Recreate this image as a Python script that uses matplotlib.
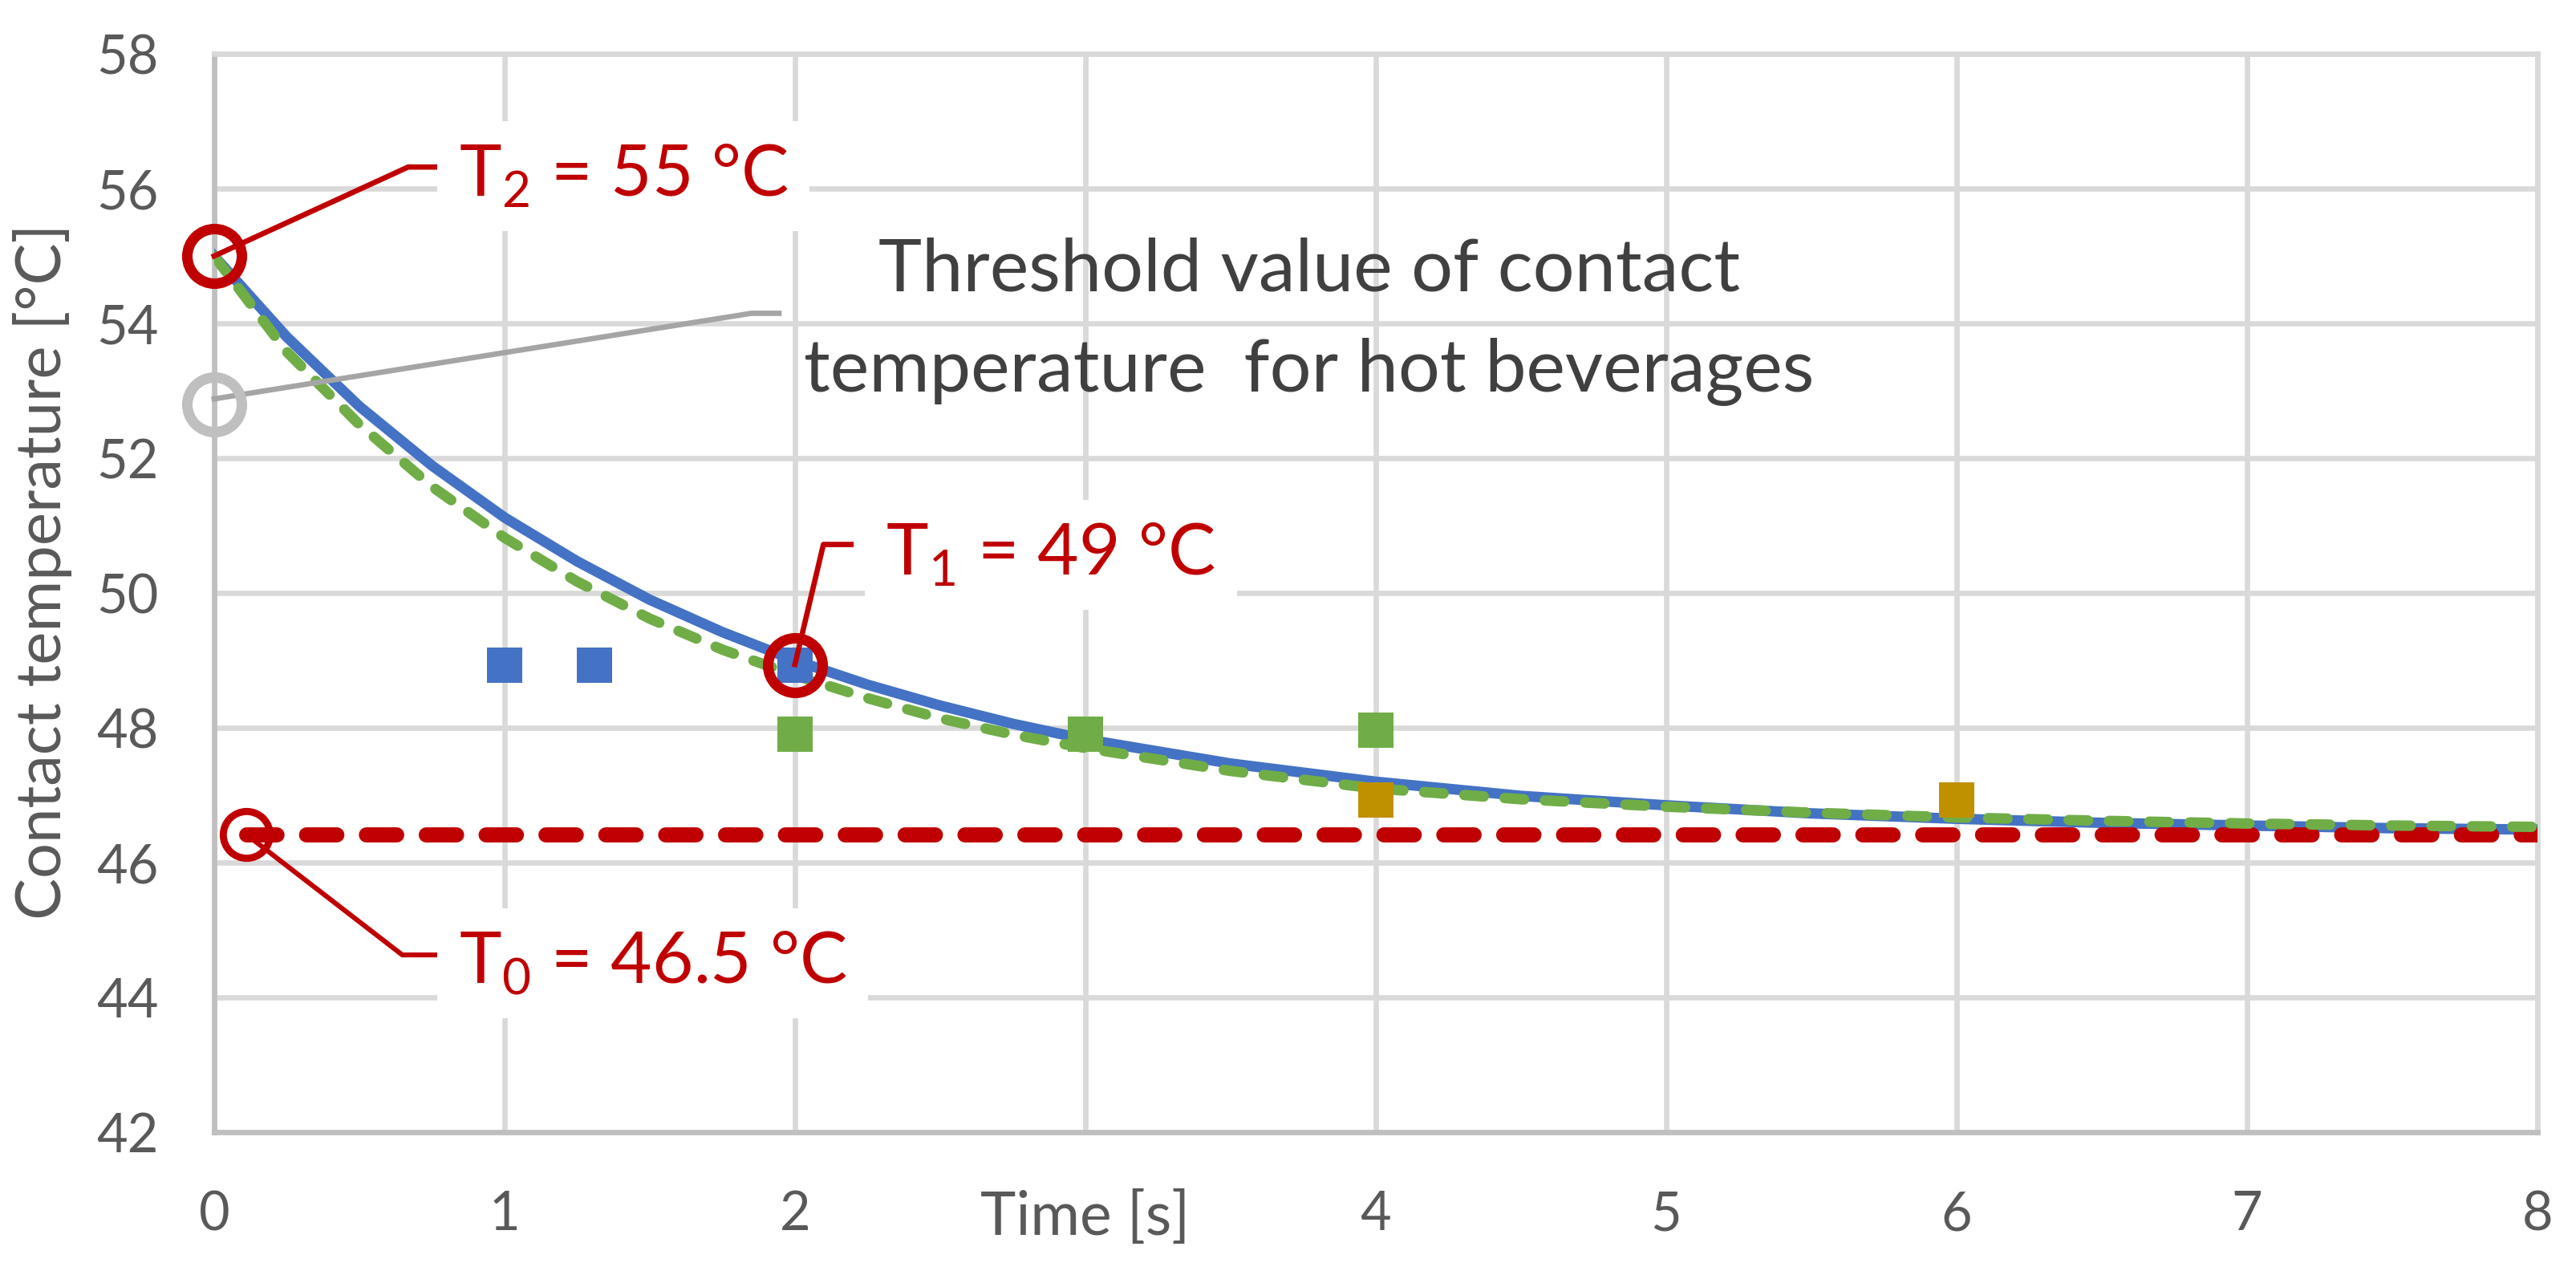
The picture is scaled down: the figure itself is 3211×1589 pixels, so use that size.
import matplotlib.pyplot as plt
import matplotlib.transforms as mtransforms

plt.rcParams['font.family'] = ['Lato', 'DejaVu Sans']
plt.rcParams['mathtext.fontset'] = 'custom'
plt.rcParams['mathtext.rm'] = 'Lato'

# values
t_curve = [0, 0.25, 0.5, 0.75, 1.0, 1.25, 1.5, 1.75, 2.0, 2.25, 2.5, 2.75, 3.0,
           3.5, 4.0, 4.5, 5.0, 5.5, 6.0, 6.5, 7.0, 7.5, 8.0]
model_blue = [55.00, 53.80, 52.77, 51.89, 51.12, 50.47, 49.90, 49.42, 49.00, 48.64,
              48.33, 48.06, 47.83, 47.47, 47.20, 46.99, 46.85, 46.73, 46.65, 46.59,
              46.55, 46.51, 46.49]
model_green = [55.00, 53.58, 52.50, 51.58, 50.82, 50.17, 49.62, 49.16, 48.78, 48.44,
               48.14, 47.90, 47.70, 47.36, 47.10, 46.94, 46.83, 46.74, 46.67, 46.62,
               46.58, 46.55, 46.53]

blue_t = [1.0, 1.31, 2.0]
blue_T = [48.93, 48.93, 48.93]
green_t = [2.0, 3.0, 4.0]
green_T = [47.9, 47.9, 47.97]
gold_t = [4.0, 6.0]
gold_T = [46.93, 46.93]

T0 = 46.42
T0_t = [0.11, 8.0]

x_ticks = [0, 1, 2, 3, 4, 5, 6, 7, 8]
x_labels = ['0', '1', '2', '', '4', '5', '6', '7', '8']
y_ticks = [42, 44, 46, 48, 50, 52, 54, 56, 58]

RED = '#C00000'
BLUE = '#4472C4'
GREEN = '#70AD47'
GOLD = '#BF9000'
GRID = '#D9D9D9'
AXIS = '#BFBFBF'
TICK = '#595959'

fig = plt.figure(figsize=(16.06, 7.945), dpi=200)
ax = fig.add_axes([0.0831, 0.1120, 0.9016, 0.8458])

ax.set_xlim(0, 8)
ax.set_ylim(42, 58)
ax.set_xticks(x_ticks)
ax.set_xticklabels(x_labels)
ax.set_yticks(y_ticks)
ax.tick_params(length=0, labelsize=24, labelcolor=TICK)
ax.tick_params(axis='x', pad=26)
ax.tick_params(axis='y', pad=25)
ax.grid(True, color=GRID, lw=2.4)
ax.set_axisbelow(True)
for s in ['left', 'bottom']:
    ax.spines[s].set_color(AXIS)
    ax.spines[s].set_linewidth(2.4)
for s in ['top', 'right']:
    ax.spines[s].set_color(GRID)
    ax.spines[s].set_linewidth(2.4)

ax.set_ylabel('Contact temperature [°C]', fontsize=28, color=TICK)
ax.yaxis.set_label_coords(-0.061, 0.52)
trans = mtransforms.blended_transform_factory(ax.transData, ax.transAxes)
ax.text(3, -0.0952, 'Time [s]', transform=trans, ha='center', va='baseline',
        fontsize=27, color=TICK)

# curves
ax.plot(t_curve, model_blue, color=BLUE, lw=4.7, zorder=3)
ax.plot(t_curve, model_green, color=GREEN, lw=4.7, dashes=(1.85, 2.0),
        dash_capstyle='round', zorder=4)
ax.plot(T0_t, [T0, T0], color=RED, lw=6.8, dashes=(2.0, 1.95),
        dash_capstyle='round', zorder=3.5)

# measured points
ax.plot(blue_t, blue_T, 's', color=BLUE, ms=15.5, mew=0, zorder=5)
ax.plot(green_t, green_T, 's', color=GREEN, ms=15.5, mew=0, zorder=5)
ax.plot(gold_t, gold_T, 's', color=GOLD, ms=15.5, mew=0, zorder=5)

box = dict(boxstyle='square,pad=0.3', fc='white', ec='none')

# T2 annotation
ax.plot([0, 0.668, 0.765], [55, 56.32, 56.32], color=RED, lw=2.4, zorder=6,
        clip_on=False)
ax.plot([0], [55], 'o', ms=24.5, mfc='none', mec=RED, mew=4.7, zorder=6,
        clip_on=False)
ax.text(0.842, 55.89, r'T$_\mathregular{2}$ = 55 °C', fontsize=32, color=RED,
        ha='left', va='baseline', bbox=box, zorder=7)

# T1 annotation
ax.plot([2.0, 2.098, 2.193], [48.94, 50.72, 50.72], color=RED, lw=2.4, zorder=6)
ax.plot([2.0], [48.93], 'o', ms=24.5, mfc='none', mec=RED, mew=4.7, zorder=6)
ax.text(2.313, 50.27, r'T$_\mathregular{1}$ = 49 °C', fontsize=32, color=RED,
        ha='left', va='baseline', bbox=box, zorder=7)

# T0 annotation
ax.plot([0.11, 0.648, 0.763], [46.42, 44.63, 44.63], color=RED, lw=2.2, zorder=6)
ax.plot([0.11], [46.42], 'o', ms=21, mfc='none', mec=RED, mew=3.2, zorder=6)
ax.text(0.843, 44.21, r'T$_\mathregular{0}$ = 46.5 °C', fontsize=32, color=RED,
        ha='left', va='baseline', bbox=box, zorder=7)

# threshold annotation
ax.plot([0, 1.85, 1.945], [52.88, 54.15, 54.15], color='#A5A5A5', lw=2.4,
        zorder=6, clip_on=False)
ax.plot([0], [52.8], 'o', ms=24.5, mfc='none', mec=AXIS, mew=4.7, zorder=6,
        clip_on=False)
ax.text(3.77, 54.48, 'Threshold value of contact', fontsize=33, color='#404040',
        ha='center', va='baseline', zorder=7)
ax.text(3.77, 52.99, 'temperature  for hot beverages', fontsize=33,
        color='#404040', ha='center', va='baseline', zorder=7)

fig.savefig('out.png', dpi=200)
